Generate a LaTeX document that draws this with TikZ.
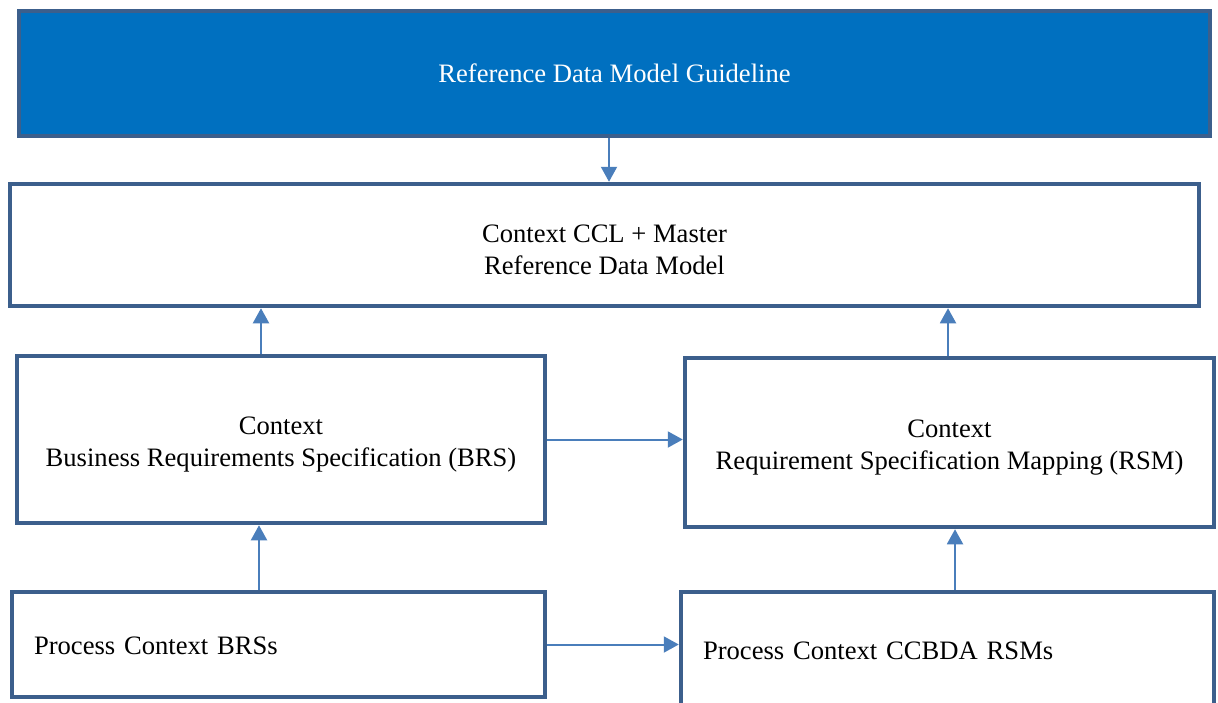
\documentclass[tikz,border=0pt]{standalone}
\usepackage{fontspec}
\setmainfont{Liberation Serif}
\usetikzlibrary{arrows.meta,calc}
\definecolor{edgeblue}{HTML}{3C5F8C}
\definecolor{fillblue}{HTML}{0070C0}
\definecolor{arrowblue}{HTML}{4A7EBB}
\begin{document}
\begin{tikzpicture}[x=0.5pt,y=-0.5pt,
        box/.style={draw=edgeblue, line width=2.25pt, fill=white, inner sep=0pt,
            align=center, font=\fontsize{13.3}{16}\selectfont},
        arr/.style={draw=arrowblue, line width=1pt, -{Triangle[width=8pt,length=7.5pt]}}]
            \useasboundingbox (0,0) rectangle (1218,702);
            \node[box, fill=fillblue, text=white, minimum width=595.5pt, minimum height=62.5pt, text height=12pt, text depth=3pt] (guide) at (614.5,73.5) {Reference Data Model Guideline};
            \node[box, minimum width=594.5pt, minimum height=61pt] (master) at (604.5,245) {\rule{0pt}{13.5pt}Context CCL + Master\\Reference Data Model};
            \node[box, minimum width=264pt, minimum height=83.5pt] (brs) at (281,439.5) {\rule{0pt}{14pt}Context\\Business Requirements Specification (BRS)};
            \node[box, minimum width=264.5pt, minimum height=84.5pt] (rsm) at (949.5,442.5) {\rule{0pt}{13.5pt}Context\\Requirement Specification Mapping (RSM)};
            \node[box, minimum width=266.5pt, minimum height=52.5pt, text width=244.5pt, align=left, text height=12.5pt, text depth=3pt] (brss) at (278.5,644.5) {Process Context BRSs};
            \node[box, minimum width=266.5pt, minimum height=70pt, text width=244.5pt, align=left] (rsms) at (947.5,662) {\raisebox{11pt}{Process Context CCBDA RSMs}};
            \coordinate (g) at ($(guide.south)+(-5.5,0)$);
            \coordinate (b) at ($(brs.north)+(-20,0)$);
            \coordinate (r) at ($(rsm.north)+(-1.5,0)$);
            \coordinate (bb) at ($(brss.north)+(-19.5,0)$);
            \coordinate (rr) at ($(rsms.north)+(7.5,0)$);
            \draw[arr] (g) -- (g |- master.north);
            \draw[arr] (b) -- (b |- master.south);
            \draw[arr] (r) -- (r |- master.south);
            \draw[arr] (bb) -- (bb |- brs.south);
            \draw[arr] (rr) -- (rr |- rsm.south);
            \draw[arr] (brs.east) -- (brs.east -| rsm.west);
            \draw[arr] (brss.east) -- (brss.east -| rsms.west);
        \end{tikzpicture}
\end{document}
